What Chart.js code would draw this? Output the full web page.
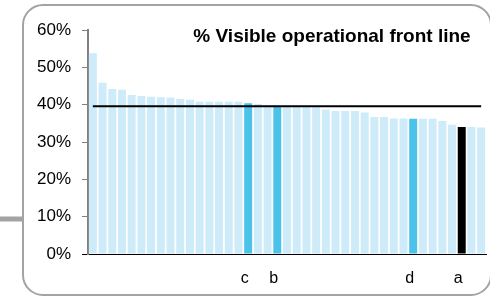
<!DOCTYPE html>
<html>
<head>
<meta charset="utf-8">
<script src="https://cdn.jsdelivr.net/npm/chart.js@4"></script>
<style>
  html, body { margin: 0; padding: 0; background: #fff; }
  canvas { display: block; }
</style>
</head>
<body>
<canvas id="frontLineChart" width="490" height="297"></canvas>
<script>
// one bar per unit, sorted high to low; only four are named
const unitLabels = ['', '', '', '', '', '', '', '', '', '', '', '', '', '', '', '',
  'c', '', '', 'b', '', '', '', '', '', '', '', '', '', '', '', '', '',
  'd', '', '', '', '', 'a', '', ''];
const visibleShare = [53.8, 45.9, 44.2, 44.0, 42.6, 42.3, 42.1, 42.0, 41.9, 41.5, 41.3,
  40.8, 40.8, 40.8, 40.8, 40.8, 40.4, 40.2, 39.8, 39.7, 39.7, 39.6, 39.6, 39.3,
  38.7, 38.3, 38.3, 38.3, 37.9, 36.7, 36.7, 36.3, 36.3, 36.2, 36.2, 36.2, 35.6,
  34.6, 34.0, 34.0, 33.9];
const averageShare = 39.6;
const yTicks = [0, 10, 20, 30, 40, 50, 60];
const titleText = '% Visible operational front line';

const FONT = '"Liberation Sans", Arial, sans-serif';
const highlight = { c: '#4bc2ea', b: '#4bc2ea', d: '#4bc2ea', a: '#000000' };
const barColors = unitLabels.map(l => highlight[l] || '#cdebf8');

const framePlugin = {
  id: 'frame',
  beforeDraw(chart) {
    const ctx = chart.ctx;
    ctx.save();
    // little connector stub on the left
    ctx.fillStyle = '#a3a3a3';
    ctx.fillRect(0, 216.5, 23, 5);
    // rounded panel
    ctx.strokeStyle = '#a3a3a3';
    ctx.lineWidth = 2;
    ctx.beginPath();
    ctx.roundRect(23, 5, 468, 290, 20);
    ctx.stroke();
    ctx.restore();
  },
  afterDraw(chart) {
    const ctx = chart.ctx;
    ctx.save();
    ctx.fillStyle = '#000';
    ctx.font = 'bold 19px ' + FONT;
    ctx.textAlign = 'center';
    ctx.textBaseline = 'alphabetic';
    ctx.fillText(titleText, 332, 41.5);
    ctx.restore();
  }
};

const ctx = document.getElementById('frontLineChart').getContext('2d');
const chart = new Chart(ctx, {
  type: 'bar',
  data: {
    labels: unitLabels,
    datasets: [
      {
        type: 'line',
        data: unitLabels.map(() => averageShare),
        borderColor: '#000',
        borderWidth: 2,
        pointRadius: 0,
        fill: false,
        order: 0
      },
      {
        data: visibleShare,
        backgroundColor: barColors,
        borderWidth: 0,
        barPercentage: 0.82,
        categoryPercentage: 1,
        order: 1
      }
    ]
  },
  options: {
    responsive: false,
    maintainAspectRatio: false,
    animation: false,
    layout: { padding: { top: 30, right: 4, bottom: 0, left: 0 } },
    plugins: {
      legend: { display: false },
      tooltip: { enabled: false }
    },
    scales: {
      x: {
        afterFit: s => { s.height = 43; },
        border: { color: '#000', width: 1 },
        // invisible tick marks push the labels down without adding side padding
        grid: { drawOnChartArea: false, drawTicks: true, tickLength: 15, tickColor: 'rgba(0,0,0,0)' },
        ticks: {
          autoSkip: false,
          maxRotation: 0,
          padding: 0,
          labelOffset: -3.5,
          color: '#000',
          font: { family: FONT, size: 16 }
        }
      },
      y: {
        min: 0,
        max: 60,
        afterFit: s => { s.width = 88; },
        afterBuildTicks: s => { s.ticks = yTicks.map(v => ({ value: v })); },
        border: { color: '#808080', width: 2 },
        grid: {
          drawOnChartArea: false,
          drawTicks: true,
          tickLength: 6,
          tickWidth: 1,
          tickColor: c => (c.tick && c.tick.value === 0 ? '#000' : '#808080')
        },
        ticks: {
          padding: 11,
          color: '#000',
          font: { family: FONT, size: 17 },
          callback: v => v + '%'
        }
      }
    }
  },
  plugins: [framePlugin]
});
</script>
</body>
</html>
